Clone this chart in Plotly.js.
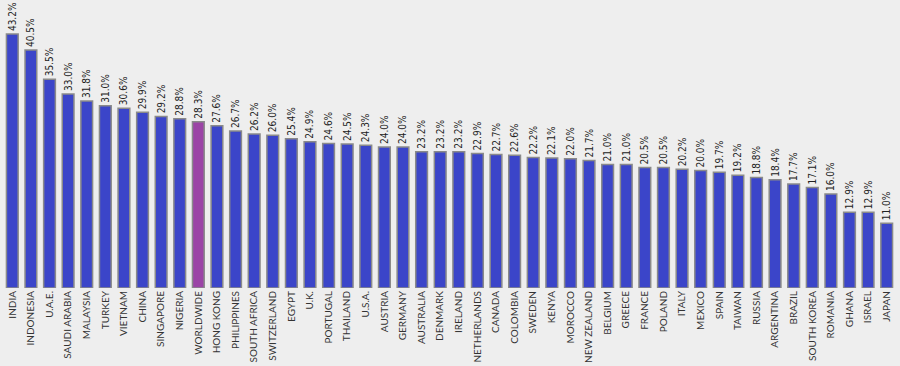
<!DOCTYPE html>
<html>
<head>
<meta charset="utf-8">
<script src="https://cdn.plot.ly/plotly-3.0.1.min.js"></script>
<style>
html,body{margin:0;padding:0;background:#eeeeee;}
#chart{width:900px;height:366px;}
</style>
</head>
<body>
<div id="chart"></div>
<script>
const countries = ["INDIA","INDONESIA","U.A.E.","SAUDI ARABIA","MALAYSIA","TURKEY","VIETNAM","CHINA","SINGAPORE","NIGERIA","WORLDWIDE","HONG KONG","PHILIPPINES","SOUTH AFRICA","SWITZERLAND","EGYPT","U.K.","PORTUGAL","THAILAND","U.S.A.","AUSTRIA","GERMANY","AUSTRALIA","DENMARK","IRELAND","NETHERLANDS","CANADA","COLOMBIA","SWEDEN","KENYA","MOROCCO","NEW ZEALAND","BELGIUM","GREECE","FRANCE","POLAND","ITALY","MEXICO","SPAIN","TAIWAN","RUSSIA","ARGENTINA","BRAZIL","SOUTH KOREA","ROMANIA","GHANA","ISRAEL","JAPAN"];
const values = [43.2,40.5,35.5,33.0,31.8,31.0,30.6,29.9,29.2,28.8,28.3,27.6,26.7,26.2,26.0,25.4,24.9,24.6,24.5,24.3,24.0,24.0,23.2,23.2,23.2,22.9,22.7,22.6,22.2,22.1,22.0,21.7,21.0,21.0,20.5,20.5,20.2,20.0,19.7,19.2,18.8,18.4,17.7,17.1,16.0,12.9,12.9,11.0];
const highlight = "WORLDWIDE";

const colors = countries.map(c => c === highlight ? "#9b44a6" : "#3b45c9");
const labels = values.map(v => v.toFixed(1) + "%");

const trace = {
  type: "bar",
  x: countries,
  y: values,
  text: labels,
  textposition: "outside",
  textangle: -90,
  constraintext: "none",
  cliponaxis: false,
  textfont: {family: "DejaVu Sans Condensed, sans-serif", size: 10, color: "#222"},
  marker: {color: colors, line: {color: "#8a8a8a", width: 1.5}},
  hoverinfo: "none"
};

const layout = {
  width: 900, height: 366,
  margin: {l: 3, r: 4, t: 0, b: 78},
  paper_bgcolor: "#eeeeee",
  plot_bgcolor: "#eeeeee",
  bargap: 0.37,
  showlegend: false,
  xaxis: {
    type: "category",
    tickangle: -90,
    tickfont: {family: "Lato, Open Sans, sans-serif", size: 10, color: "#333"},
    showline: false, ticks: "", showgrid: false, zeroline: false,
    automargin: false
  },
  yaxis: {
    range: [0, 49],
    visible: false,
    showgrid: false, zeroline: false, fixedrange: true
  }
};

Plotly.newPlot("chart", [trace], layout, {displayModeBar: false, staticPlot: true});
</script>
</body>
</html>
